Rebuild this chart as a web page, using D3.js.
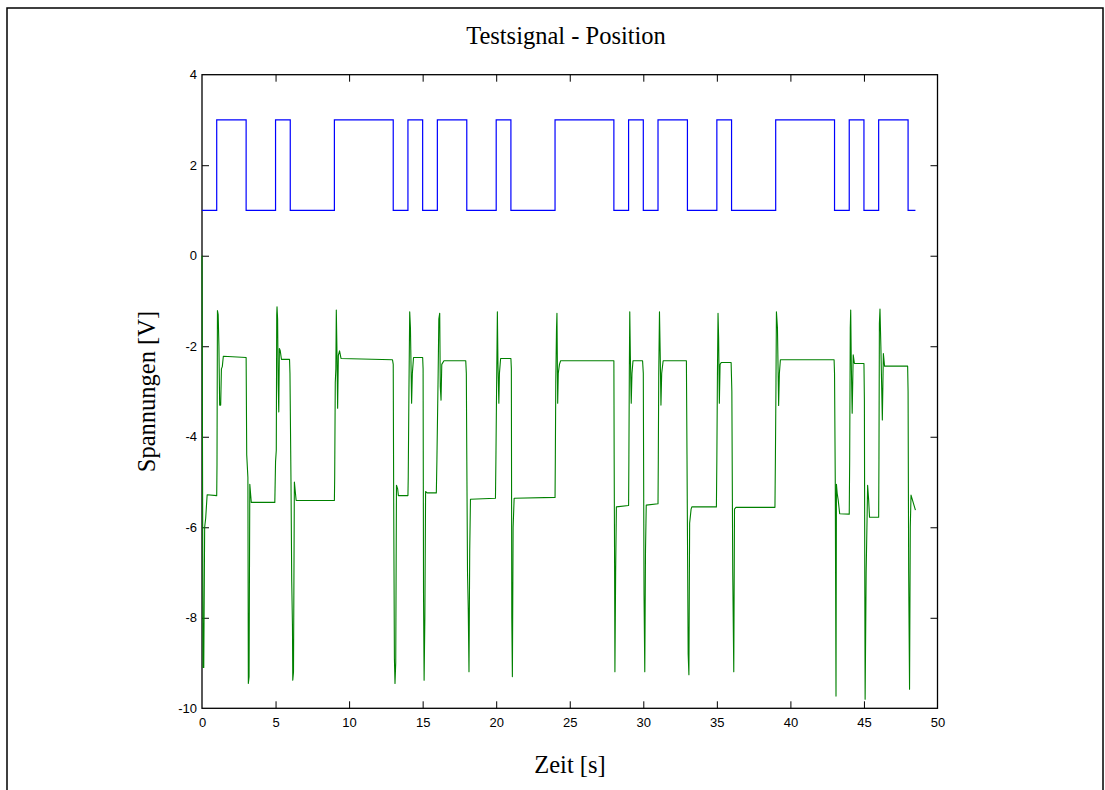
<!DOCTYPE html>
<html>
<head>
<meta charset="utf-8">
<script src="https://cdn.jsdelivr.net/npm/d3@7"></script>
<style>
  html, body { margin: 0; padding: 0; background: #fff; }
  svg { display: block; }
</style>
</head>
<body>
<svg id="chart" width="1105" height="790"></svg>
<script>
// Axis ranges and tick labels
const xTicks = [0, 5, 10, 15, 20, 25, 30, 35, 40, 45, 50];
const yTicks = [4, 2, 0, -2, -4, -6, -8, -10];

// Reference signal: switching times [s] and levels [V]
const refTimes  = [0, 1, 3, 5, 6, 9, 13, 14, 15, 16, 18, 20, 21, 24, 28, 29, 30, 31, 33, 35, 36, 39, 43, 44, 45, 46, 48, 48.5];
const refLevels = [1, 3, 1, 3, 1, 3, 1,  3,  1,  3,  1,  3,  1,  3,  1,  3,  1,  3,  1,  3,  1,  3,  1,  3,  1,  3,  1,  1];

// Measured position voltage [t (s), U (V)]
const measured = [
  [0, 0.0], [0.03, -3.8], [0.07, -9.1], [0.12, -9.1], [0.18, -6.0], [0.25, -5.8], [0.35, -5.28], [1.0, -5.3],
  [1.02, -4.6], [1.05, -1.21], [1.1, -1.3], [1.15, -2.0], [1.2, -3.3], [1.27, -3.3], [1.32, -2.5], [1.38, -2.45], [1.45, -2.22], [3.0, -2.25],
  [3.04, -4.4], [3.12, -4.9], [3.15, -9.45], [3.2, -9.3], [3.25, -5.05], [3.35, -5.45], [4.95, -5.45],
  [5.0, -4.55], [5.05, -4.3], [5.08, -1.3], [5.1, -1.13], [5.14, -1.4], [5.18, -2.85], [5.22, -3.45], [5.26, -2.05], [5.32, -2.1], [5.4, -2.29], [5.95, -2.29],
  [5.98, -2.6], [6.05, -5.0], [6.1, -7.2], [6.15, -8.2], [6.17, -9.38], [6.22, -9.2], [6.28, -5.0], [6.4, -5.41], [9.0, -5.41],
  [9.02, -4.9], [9.06, -2.8], [9.1, -2.5], [9.13, -1.2], [9.17, -2.0], [9.22, -3.37], [9.27, -2.2], [9.35, -2.1], [9.45, -2.27], [12.95, -2.3],
  [13.0, -2.4], [13.03, -5.3], [13.08, -8.9], [13.12, -9.45], [13.17, -9.0], [13.22, -5.07], [13.3, -5.15], [13.35, -5.3], [14.0, -5.3],
  [14.02, -4.9], [14.07, -2.9], [14.12, -1.24], [14.17, -1.6], [14.25, -3.26], [14.3, -2.6], [14.38, -2.25], [15.0, -2.25],
  [15.03, -2.5], [15.06, -7.5], [15.1, -9.38], [15.15, -8.0], [15.2, -5.21], [15.3, -5.24], [15.93, -5.24],
  [15.97, -4.5], [16.05, -2.7], [16.1, -1.4], [16.16, -1.27], [16.2, -2.9], [16.25, -3.19], [16.3, -2.4], [16.45, -2.32], [17.93, -2.32],
  [17.97, -2.6], [18.0, -4.4], [18.05, -7.0], [18.1, -7.8], [18.15, -9.19], [18.2, -6.5], [18.25, -5.38], [19.95, -5.36],
  [19.98, -4.5], [20.03, -2.8], [20.08, -1.24], [20.12, -2.4], [20.18, -3.26], [20.22, -2.6], [20.3, -2.27], [21.0, -2.27],
  [21.03, -2.5], [21.06, -8.0], [21.1, -9.3], [21.15, -6.0], [21.22, -5.36], [24.0, -5.34],
  [24.02, -4.5], [24.05, -2.8], [24.1, -1.6], [24.13, -1.27], [24.18, -3.26], [24.22, -2.6], [24.3, -2.4], [24.38, -2.32], [28.0, -2.32],
  [28.02, -4.5], [28.05, -7.0], [28.07, -9.19], [28.12, -7.0], [28.17, -5.55], [29.0, -5.52],
  [29.02, -4.5], [29.05, -2.6], [29.08, -1.24], [29.12, -2.2], [29.18, -3.26], [29.23, -2.6], [29.3, -2.32], [29.95, -2.32],
  [30.0, -2.6], [30.05, -7.5], [30.1, -9.19], [30.15, -6.5], [30.2, -5.51], [31.0, -5.48],
  [31.02, -4.5], [31.05, -2.6], [31.1, -1.24], [31.15, -2.2], [31.2, -3.3], [31.25, -2.6], [31.35, -2.32], [32.93, -2.32],
  [32.97, -4.4], [33.05, -8.8], [33.1, -9.26], [33.15, -5.91], [33.25, -5.6], [33.3, -5.55], [34.97, -5.55],
  [35.0, -4.5], [35.04, -2.6], [35.08, -1.27], [35.12, -1.8], [35.17, -3.26], [35.22, -2.4], [35.3, -2.36], [35.97, -2.36],
  [36.02, -3.0], [36.08, -7.0], [36.15, -9.19], [36.2, -5.6], [36.3, -5.56], [38.95, -5.56],
  [38.98, -4.5], [39.02, -2.8], [39.05, -1.24], [39.12, -1.6], [39.2, -3.31], [39.25, -2.6], [39.32, -2.3], [42.97, -2.3],
  [43.0, -2.6], [43.05, -5.0], [43.1, -9.73], [43.13, -5.05], [43.18, -5.25], [43.25, -5.4], [43.35, -5.7], [44.0, -5.71],
  [44.03, -4.5], [44.07, -1.6], [44.1, -1.2], [44.14, -2.4], [44.2, -3.48], [44.27, -2.19], [44.35, -2.38], [45.0, -2.38],
  [45.03, -3.2], [45.06, -7.5], [45.08, -9.8], [45.15, -7.0], [45.25, -5.07], [45.32, -5.4], [45.38, -5.78], [46.0, -5.78],
  [46.02, -4.5], [46.05, -1.5], [46.09, -1.18], [46.15, -2.0], [46.25, -3.63], [46.32, -2.16], [46.4, -2.44], [47.97, -2.44],
  [48.0, -3.0], [48.04, -7.0], [48.1, -9.58], [48.15, -6.0], [48.2, -5.29], [48.3, -5.4], [48.5, -5.62]
];

const svg = d3.select("#chart");

// Figure frame
svg.append("rect")
  .attr("x", 7).attr("y", 8)
  .attr("width", 1096).attr("height", 800)
  .attr("fill", "none").attr("stroke", "#000").attr("stroke-width", 1.5);

const plot = { left: 202, right: 937.5, top: 74.7, bottom: 708.3 };

const x = d3.scaleLinear().domain([0, 50]).range([plot.left, plot.right]);
const y = d3.scaleLinear().domain([-10, 4]).range([plot.bottom, plot.top]);

const tickLen = 7;
const tickFont = "Liberation Sans, Arial, sans-serif";
// Plain hyphen-minus for negative tick labels
const fmt = d => String(d);

// Axes: labels outside, ticks pointing inward (boxed style)
const gx = svg.append("g").attr("transform", `translate(0,${plot.bottom})`)
  .call(d3.axisBottom(x).tickValues(xTicks).tickFormat(fmt).tickSizeInner(-tickLen).tickSizeOuter(0).tickPadding(9));
const gxTop = svg.append("g").attr("transform", `translate(0,${plot.top})`)
  .call(d3.axisTop(x).tickValues(xTicks).tickFormat("").tickSizeInner(-tickLen).tickSizeOuter(0));
const gy = svg.append("g").attr("transform", `translate(${plot.left},0)`)
  .call(d3.axisLeft(y).tickValues(yTicks).tickFormat(fmt).tickSizeInner(-tickLen).tickSizeOuter(0).tickPadding(5));
const gyRight = svg.append("g").attr("transform", `translate(${plot.right},0)`)
  .call(d3.axisRight(y).tickValues(yTicks).tickFormat("").tickSizeInner(-tickLen).tickSizeOuter(0));

[gx, gxTop, gy, gyRight].forEach(g => {
  g.select(".domain").remove();
  g.selectAll(".tick line").attr("stroke", "#000").attr("stroke-width", 1);
  g.selectAll(".tick text").attr("fill", "#000").style("font-family", tickFont).style("font-size", "13px");
});
gx.selectAll(".tick text").attr("dy", "0.75em");
// Hide tick marks sitting on the box corners
[gx, gxTop].forEach(g => g.selectAll(".tick line").filter(d => d === 0 || d === 50).remove());
[gy, gyRight].forEach(g => g.selectAll(".tick line").filter(d => d === 4 || d === -10).remove());

// Plot box
svg.append("rect")
  .attr("x", plot.left).attr("y", plot.top)
  .attr("width", plot.right - plot.left).attr("height", plot.bottom - plot.top)
  .attr("fill", "none").attr("stroke", "#000").attr("stroke-width", 1.3);

// Reference square wave (step after each switching time)
const refData = refTimes.map((t, i) => [t, refLevels[i]]);
const stepLine = d3.line().x(d => x(d[0])).y(d => y(d[1])).curve(d3.curveStepAfter);
svg.append("path")
  .datum(refData)
  .attr("d", stepLine)
  .attr("fill", "none")
  .attr("stroke", "#0000ff")
  .attr("stroke-width", 1.2);

// Measured voltage
const line = d3.line().x(d => x(d[0])).y(d => y(d[1]));
svg.append("path")
  .datum(measured)
  .attr("d", line)
  .attr("fill", "none")
  .attr("stroke", "#008000")
  .attr("stroke-width", 1.1)
  .attr("stroke-linejoin", "round");

// Titles
const serif = "Liberation Serif, Times New Roman, serif";
svg.append("text")
  .attr("x", 566).attr("y", 44)
  .attr("text-anchor", "middle")
  .style("font-family", serif).style("font-size", "24.5px")
  .text("Testsignal - Position");

svg.append("text")
  .attr("x", 570).attr("y", 773)
  .attr("text-anchor", "middle")
  .style("font-family", serif).style("font-size", "24.5px")
  .text("Zeit [s]");

svg.append("text")
  .attr("transform", `translate(155,${(plot.top + plot.bottom) / 2}) rotate(-90)`)
  .attr("text-anchor", "middle")
  .style("font-family", serif).style("font-size", "24.5px")
  .text("Spannungen [V]");
</script>
</body>
</html>
